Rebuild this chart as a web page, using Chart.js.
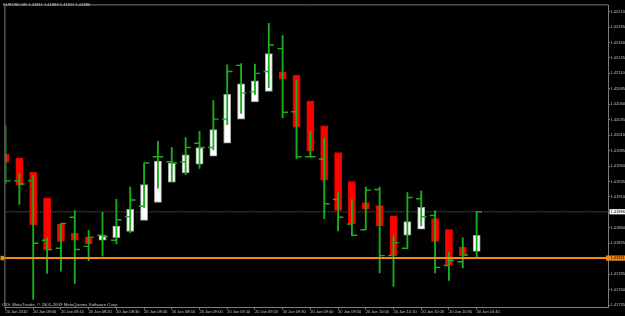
<!DOCTYPE html>
<html>
<head>
<meta charset="utf-8">
<script src="https://cdn.jsdelivr.net/npm/chart.js@4.4.1/dist/chart.umd.min.js"></script>
<style>
  html, body { margin: 0; padding: 0; background: #000; }
  #wrap { width: 625px; height: 316px; }
</style>
</head>
<body>
<div id="wrap"><canvas id="chart"></canvas></div>
<script>
const symbolTitle = 'EURUSD,M5 1.41811 1.41886 1.41811 1.41886';
const copyright = 'ODL MetaTrader, \u00a9 2001-2009 MetaQuotes Software Corp.';

// M5 bars, 20 Jan 2010
const times = ['07:50', '07:55', '08:00', '08:05', '08:10', '08:15', '08:20', '08:25', '08:30', '08:35',
  '08:40', '08:45', '08:50', '08:55', '09:00', '09:05', '09:10', '09:15', '09:20', '09:25',
  '09:30', '09:35', '09:40', '09:45', '09:50', '09:55', '10:00', '10:05', '10:10', '10:15',
  '10:20', '10:25', '10:30', '10:35', '10:40'];

// heiken ashi bodies (red / white blocks)
const haOpen = [1.41979, 1.41973, 1.41950, 1.41908, 1.41866, 1.41851, 1.41845, 1.41840, 1.41844, 1.41854,
  1.41872, 1.41901, 1.41934, 1.41949, 1.41963, 1.41976, 1.41997, 1.42036, 1.42064, 1.42081,
  1.42112, 1.42107, 1.42065, 1.42025, 1.41982, 1.41935, 1.41901, 1.41896, 1.41879, 1.41848,
  1.41858, 1.41875, 1.41857, 1.41829, 1.41822];
const haClose = [1.41966, 1.41929, 1.41865, 1.41824, 1.41838, 1.41840, 1.41834, 1.41848, 1.41863, 1.41890,
  1.41930, 1.41968, 1.41965, 1.41978, 1.41990, 1.42019, 1.42076, 1.42093, 1.42098, 1.42142,
  1.42101, 1.42023, 1.41984, 1.41937, 1.41888, 1.41866, 1.41890, 1.41863, 1.41815, 1.41870,
  1.41893, 1.41838, 1.41800, 1.41815, 1.41848];

// price bars (green OHLC)
const barOpen = [1.41972, 1.41936, 1.41936, 1.41840, 1.41827, 1.41877, 1.41830, 1.41848, 1.41840, 1.41878,
  1.41895, 1.41975, 1.41967, 1.41967, 1.41997, 1.41990, 1.42036, 1.42123, 1.42080, 1.42113,
  1.42150, 1.42048, 1.41975, 1.41971, 1.41906, 1.41866, 1.41857, 1.41922, 1.41815, 1.41827,
  1.41907, 1.41880, 1.41799, 1.41805, 1.41811];
const barHigh = [1.42025, 1.41947, 1.41945, 1.41844, 1.41867, 1.41888, 1.41856, 1.41885, 1.41906, 1.41926,
  1.41965, 1.42000, 1.41990, 1.42006, 1.42016, 1.42066, 1.42124, 1.42126, 1.42125, 1.42191,
  1.42171, 1.42099, 1.42016, 1.42005, 1.41917, 1.41906, 1.41926, 1.41926, 1.41847, 1.41917,
  1.41920, 1.41888, 1.41820, 1.41844, 1.41886];
const barLow = [1.41931, 1.41898, 1.41744, 1.41786, 1.41790, 1.41770, 1.41807, 1.41814, 1.41834, 1.41852,
  1.41893, 1.41924, 1.41934, 1.41946, 1.41956, 1.41986, 1.42027, 1.42045, 1.42076, 1.42087,
  1.42038, 1.41972, 1.41974, 1.41875, 1.41855, 1.41847, 1.41857, 1.41787, 1.41765, 1.41826,
  1.41863, 1.41787, 1.41775, 1.41795, 1.41811];
const barClose = [1.41936, 1.41931, 1.41835, 1.41825, 1.41867, 1.41825, 1.41845, 1.41846, 1.41873, 1.41905,
  1.41965, 1.41975, 1.41965, 1.41990, 1.41990, 1.42036, 1.42113, 1.42078, 1.42110, 1.42156,
  1.42047, 1.41975, 1.41975, 1.41899, 1.41877, 1.41848, 1.41921, 1.41815, 1.41836, 1.41909,
  1.41878, 1.41796, 1.41807, 1.41816, 1.41886];

const xTickLabels = ['20 Jan 2010', '20 Jan 08:00', '20 Jan 08:10', '20 Jan 08:20', '20 Jan 08:30', '20 Jan 08:40',
  '20 Jan 08:50', '20 Jan 09:00', '20 Jan 09:10', '20 Jan 09:20', '20 Jan 09:30', '20 Jan 09:40',
  '20 Jan 09:50', '20 Jan 10:00', '20 Jan 10:10', '20 Jan 10:20', '20 Jan 10:30', '20 Jan 10:40'];
const yTickLabels = ['1.41735', '1.41760', '1.41785', '1.41810', '1.41835', '1.41860', '1.41885', '1.41910',
  '1.41935', '1.41960', '1.41985', '1.42010', '1.42035', '1.42060', '1.42085', '1.42110', '1.42135',
  '1.42160', '1.42185', '1.42210'];

const bidPrice = 1.41886;
const linePrice = 1.41811;

const GREEN = '#18b018';
const ORANGE = '#f08a12';
const AXIS = '#7c7c7c';
const TEXT = '#c4c4c4';
const FONT = '"Liberation Sans", Arial, sans-serif';

const X_MIN = -0.007, X_MAX = 43.515;
const TICK_SHIFT = 0.19; // open tick left, close tick right

const bodies = times.map((t, i) => ({ x: i, y: [haOpen[i], haClose[i]] }));
const ranges = times.map((t, i) => ({ x: i, y: [barLow[i], barHigh[i]] }));
const opens = times.map((t, i) => ({ x: i - TICK_SHIFT, y: barOpen[i] }));
const closes = times.map((t, i) => ({ x: i + TICK_SHIFT, y: barClose[i] }));
const up = haOpen.map((o, i) => haClose[i] >= o);

function priceBox(ctx, x, y, w, fill, label) {
  ctx.fillStyle = fill;
  ctx.fillRect(x, y - 2.6, w, 5.2);
  ctx.fillStyle = '#000';
  ctx.textAlign = 'left';
  ctx.textBaseline = 'middle';
  ctx.fillText(label, 610.5, y + 0.2);
}

const mtDecor = {
  id: 'mtDecor',
  afterDraw(chart) {
    const { ctx, chartArea: a, scales } = chart;
    ctx.save();
    ctx.strokeStyle = AXIS;
    ctx.lineWidth = 1;
    ctx.beginPath();
    ctx.moveTo(a.left - 0.5, a.bottom);
    ctx.lineTo(a.left - 0.5, a.top - 0.5);
    ctx.lineTo(a.right, a.top - 0.5);
    ctx.stroke();

    ctx.fillStyle = TEXT;
    ctx.textBaseline = 'middle';
    ctx.font = '4.1px ' + FONT;
    ctx.fillText(symbolTitle, 3, 4.8);
    ctx.font = '4.4px ' + FONT;
    ctx.fillText(copyright, 2, 304.7);

    const yl = scales.y.getPixelForValue(linePrice);
    const yb = scales.y.getPixelForValue(bidPrice);
    ctx.font = '4px ' + FONT;
    priceBox(ctx, a.right + 1, yb, 625 - a.right, '#ffffff', bidPrice.toFixed(5));
    priceBox(ctx, a.right - 2.5, yl, 625 - a.right + 2.5, ORANGE, linePrice.toFixed(5));
    ctx.fillStyle = ORANGE;
    ctx.fillRect(0.5, yl - 2.2, 3.5, 4.4);
    ctx.restore();
  }
};

new Chart(document.getElementById('chart'), {
  type: 'bar',
  data: {
    datasets: [
      {
        type: 'line', data: [{ x: -1, y: linePrice }, { x: 60, y: linePrice }],
        borderColor: ORANGE, borderWidth: 2, pointRadius: 0, order: 0,
        clip: { left: 2, right: 0, top: 0, bottom: 0 }
      },
      {
        type: 'line', data: opens, showLine: false, order: 1, clip: 0,
        pointStyle: 'line', pointRadius: 2.65, pointBorderWidth: 1.4, pointBorderColor: GREEN
      },
      {
        type: 'line', data: closes, showLine: false, order: 1, clip: 0,
        pointStyle: 'line', pointRadius: 2.65, pointBorderWidth: 1.4, pointBorderColor: GREEN
      },
      {
        data: ranges, backgroundColor: GREEN, grouped: false, order: 2, clip: 0,
        barThickness: 1.2, maxBarThickness: 1.2, borderWidth: 0
      },
      {
        data: bodies, grouped: false, order: 3, clip: 0,
        backgroundColor: up.map(u => u ? '#ffffff' : '#ff0000'),
        borderColor: up.map(u => u ? '#9a9a9a' : '#e00000'),
        borderWidth: 1, borderSkipped: false,
        barThickness: 7.2, maxBarThickness: 7.2
      },
      {
        type: 'line', data: [{ x: -1, y: bidPrice }, { x: 60, y: bidPrice }],
        borderColor: '#363636', borderWidth: 1.4, borderDash: [2, 1], pointRadius: 0, order: 4, clip: 0
      }
    ]
  },
  options: {
    responsive: true,
    maintainAspectRatio: false,
    animation: false,
    events: [],
    layout: { padding: { top: 1, left: 1.5, right: 0, bottom: 0 } },
    plugins: { legend: { display: false }, tooltip: { enabled: false } },
    scales: {
      x: {
        type: 'linear', position: 'bottom', min: X_MIN, max: X_MAX, offset: false,
        grid: { offset: false, drawOnChartArea: false, drawTicks: true, tickLength: 2, color: AXIS },
        border: { display: true, color: AXIS, width: 1 },
        ticks: {
          align: 'start', autoSkip: false, maxRotation: 0, minRotation: 0, padding: 0.5,
          color: TEXT, font: { family: FONT, size: 4, lineHeight: 1 },
          callback: v => xTickLabels[Math.round(v / 2)]
        },
        afterBuildTicks: s => { s.ticks = xTickLabels.map((l, i) => ({ value: i * 2 })); },
        afterFit: s => { s.height = 8.3; }
      },
      y: {
        type: 'linear', position: 'right', min: 1.417307, max: 1.4222005, beginAtZero: false,
        grid: { drawOnChartArea: false, drawTicks: true, tickLength: 1.5, color: AXIS },
        border: { display: true, color: AXIS, width: 1 },
        ticks: {
          autoSkip: false, padding: 0.5, color: TEXT,
          font: { family: FONT, size: 4, lineHeight: 1 },
          callback: v => v.toFixed(5)
        },
        afterBuildTicks: s => { s.ticks = yTickLabels.map(l => ({ value: parseFloat(l) })); },
        afterFit: s => { s.width = 16.5; }
      }
    }
  },
  plugins: [mtDecor]
});
</script>
</body>
</html>
